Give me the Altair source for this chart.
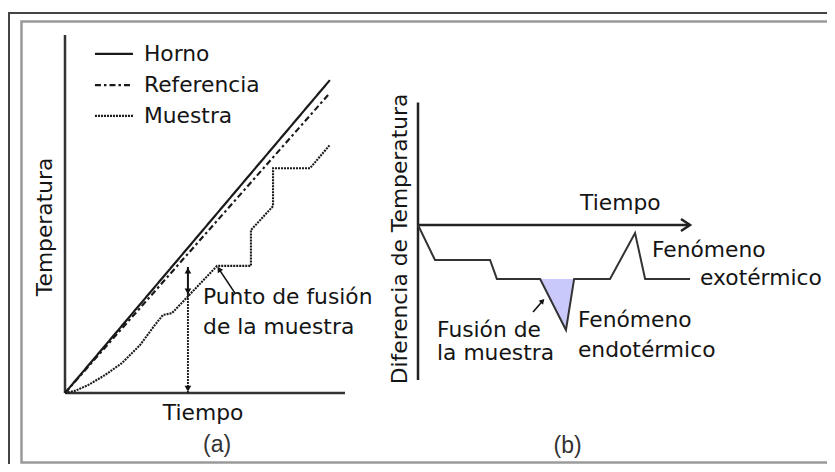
import altair as alt
import pandas as pd

# ---------------- Panel (a): temperature vs time ----------------
series_names = ["Horno", "Referencia", "Muestra"]
horno_t = [0, 94.6]
horno_T = [0, 87.4]
ref_t = [0, 94.6]
ref_T = [0, 83.8]
muestra_t = [0, 3.6, 8.2, 14.3, 20.4, 26.8, 32.1, 35.0, 38.2, 54.3, 66.4, 66.4,
             74.3, 74.3, 87.5, 94.6]
muestra_T = [0, 0.6, 2.2, 5.0, 8.4, 13.4, 19.0, 21.8, 22.3, 35.5, 35.5, 45.5,
             52.2, 62.8, 62.8, 69.3]
fusion_t = 43.9          # time of the melting point
fusion_ref_T = 35.2      # reference temperature at that time
fusion_muestra_T = 27.4  # sample temperature at that time

# ---------------- Panel (b): DTA curve ----------------
dta_t = [0, 6.25, 26.5, 29.0, 44.9, 54.4, 57.4, 70.6, 79.8, 83.5, 100]
dta_dT = [0, -22.6, -22.6, -34.8, -34.8, -67.7, -34.8, -34.8, -5.2, -34.8, -34.8]
endo_t = [44.9, 54.4, 57.4]
endo_dT = [-34.8, -67.7, -34.8]
endo_base = -34.8

FONT = "DejaVu Sans"
FS = 21.8
INK = "#1a1a1a"
TXT = "#151515"

XA = alt.Scale(domain=[0, 100], range=[57, 337], nice=False, zero=False)
YA = alt.Scale(domain=[0, 100], range=[385, 27], nice=False, zero=False)
XB = alt.Scale(domain=[0, 100], range=[410, 682], nice=False, zero=False)
YB = alt.Scale(domain=[-100, 80], range=[372, 93], nice=False, zero=False)


def xa(f):
    return alt.X(f, scale=XA, axis=None)


def ya(f):
    return alt.Y(f, scale=YA, axis=None)


def xb(f):
    return alt.X(f, scale=XB, axis=None)


def yb(f):
    return alt.Y(f, scale=YB, axis=None)


dash_scale = alt.Scale(domain=series_names, range=[[1, 0], [6, 3, 2.5, 3], [2, 1]])
width_scale = alt.Scale(domain=series_names, range=[2.2, 2.1, 1.9])

# curves of panel (a)
rows = []
for name, ts, vs in [("Horno", horno_t, horno_T), ("Referencia", ref_t, ref_T),
                     ("Muestra", muestra_t, muestra_T)]:
    for i, (t, v) in enumerate(zip(ts, vs)):
        rows.append({"series": name, "i": i, "t": t, "v": v})
curves_a = pd.DataFrame(rows)

layers = []

# frames
layers.append(alt.Chart(pd.DataFrame({"k": [0]})).mark_rect(
    fill=None, stroke="#444444", strokeWidth=2).encode(
    x=alt.value(1), x2=alt.value(900), y=alt.value(5), y2=alt.value(900)))
layers.append(alt.Chart(pd.DataFrame({"k": [0]})).mark_rect(
    fill=None, stroke="#9a9a9a", strokeWidth=2.5).encode(
    x=alt.value(13.5), x2=alt.value(900), y=alt.value(13.5), y2=alt.value(454.5)))

# axes of panel (a)
axes_a = pd.DataFrame({"t": [0, 0], "v": [0, 0], "t2": [0, 100], "v2": [100, 0]})
layers.append(alt.Chart(axes_a).mark_rule(color="#333333", strokeWidth=2.5).encode(
    x=xa("t:Q"), y=ya("v:Q"), x2="t2:Q", y2="v2:Q"))

layers.append(alt.Chart(curves_a).mark_line(color=INK).encode(
    x=xa("t:Q"), y=ya("v:Q"),
    strokeDash=alt.StrokeDash("series:N", scale=dash_scale, legend=None),
    strokeWidth=alt.StrokeWidth("series:N", scale=width_scale, legend=None),
    detail="series:N", order="i:Q"))

# legend of panel (a)
leg = pd.DataFrame({"series": series_names, "t": [10.7] * 3, "t2": [24.3] * 3,
                    "v": [94.7, 86.0, 77.4], "tl": [28.2] * 3})
layers.append(alt.Chart(leg).mark_rule(color=INK).encode(
    x=xa("t:Q"), x2="t2:Q", y=ya("v:Q"),
    strokeDash=alt.StrokeDash("series:N", scale=dash_scale, legend=None),
    strokeWidth=alt.StrokeWidth("series:N", scale=width_scale, legend=None)))
layers.append(alt.Chart(leg).mark_text(
    align="left", baseline="middle", font=FONT, fontSize=FS, color=TXT).encode(
    x=xa("tl:Q"), y=ya("v:Q"), text="series:N"))

# melting point arrows
seg_solid = pd.DataFrame({"t": [fusion_t], "v": [fusion_ref_T], "v2": [fusion_muestra_T]})
layers.append(alt.Chart(seg_solid).mark_rule(color="#111111", strokeWidth=2).encode(
    x=xa("t:Q"), y=ya("v:Q"), y2="v2:Q"))
seg_dot = pd.DataFrame({"t": [fusion_t], "v": [fusion_muestra_T], "v2": [0]})
layers.append(alt.Chart(seg_dot).mark_rule(color=INK, strokeWidth=1.9, strokeDash=[2, 1]).encode(
    x=xa("t:Q"), y=ya("v:Q"), y2="v2:Q"))
heads_up = pd.DataFrame({"t": [fusion_t], "v": [fusion_ref_T - 1.0]})
layers.append(alt.Chart(heads_up).mark_point(
    shape="triangle-up", filled=True, color="#111111", size=45, opacity=1).encode(
    x=xa("t:Q"), y=ya("v:Q")))
heads_down = pd.DataFrame({"t": [fusion_t, fusion_t], "v": [fusion_muestra_T + 1.0, 1.2]})
layers.append(alt.Chart(heads_down).mark_point(
    shape="triangle-down", filled=True, color="#111111", size=45, opacity=1).encode(
    x=xa("t:Q"), y=ya("v:Q")))

# pointer to the plateau
ptr_a = pd.DataFrame({"t": [60.7], "v": [27.9], "t2": [55.0], "v2": [34.6]})
layers.append(alt.Chart(ptr_a).mark_rule(color="#111111", strokeWidth=1.6).encode(
    x=xa("t:Q"), y=ya("v:Q"), x2="t2:Q", y2="v2:Q"))
layers.append(alt.Chart(ptr_a).mark_point(
    shape="triangle-up", filled=True, color="#111111", size=40, opacity=1, angle=327).encode(
    x=xa("t2:Q"), y=ya("v2:Q")))

# texts of panel (a)
txt_a_left = pd.DataFrame({
    "t": [49.3, 49.3],
    "v": [26.8, 18.4],
    "label": ["Punto de fusión", "de la muestra"],
})
txt_a_center = pd.DataFrame({"t": [49.3], "v": [-5.6], "label": ["Tiempo"]})
layers.append(alt.Chart(txt_a_left).mark_text(
    align="left", baseline="middle", font=FONT, fontSize=FS, color=TXT).encode(
    x=xa("t:Q"), y=ya("v:Q"), text="label:N"))
layers.append(alt.Chart(txt_a_center).mark_text(
    align="center", baseline="middle", font=FONT, fontSize=FS, color=TXT).encode(
    x=xa("t:Q"), y=ya("v:Q"), text="label:N"))
layers.append(alt.Chart(pd.DataFrame({"t": [-7.1], "v": [46.4], "label": ["Temperatura"]})).mark_text(
    align="center", baseline="middle", font=FONT, fontSize=FS, color=TXT, angle=270).encode(
    x=xa("t:Q"), y=ya("v:Q"), text="label:N"))
layers.append(alt.Chart(pd.DataFrame({"t": [54.3], "v": [-14.5], "label": ["(a)"]})).mark_text(
    align="center", baseline="middle", font="Liberation Sans", fontSize=23, color="#333333").encode(
    x=xa("t:Q"), y=ya("v:Q"), text="label:N"))

# ---------------- panel (b) ----------------
axes_b = pd.DataFrame({"t": [0, 0], "v": [-100, 0], "t2": [0, 100], "v2": [79, 0]})
layers.append(alt.Chart(axes_b).mark_rule(color="#222222", strokeWidth=2.5).encode(
    x=xb("t:Q"), y=yb("v:Q"), x2="t2:Q", y2="v2:Q"))
layers.append(alt.Chart(pd.DataFrame({"t": [100], "v": [0]})).mark_point(
    shape="M-1.5,-1L0,0L-1.5,1", filled=False, color="#222222", strokeWidth=2.5,
    size=144, opacity=1).encode(x=xb("t:Q"), y=yb("v:Q")))

endo = pd.DataFrame({"t": endo_t, "v": endo_dT, "b": [endo_base] * 3})
layers.append(alt.Chart(endo).mark_area(color="#c9c9fb", opacity=1).encode(
    x=xb("t:Q"), y=yb("v:Q"), y2="b:Q"))
dta = pd.DataFrame({"i": list(range(len(dta_t))), "t": dta_t, "v": dta_dT})
layers.append(alt.Chart(dta).mark_line(color="#333333", strokeWidth=2).encode(
    x=xb("t:Q"), y=yb("v:Q"), order="i:Q"))

ptr_b = pd.DataFrame({"t": [42.3], "v": [-56.1], "t2": [45.8], "v2": [-49.0]})
layers.append(alt.Chart(ptr_b).mark_rule(color="#111111", strokeWidth=1.6).encode(
    x=xb("t:Q"), y=yb("v:Q"), x2="t2:Q", y2="v2:Q"))
layers.append(alt.Chart(ptr_b).mark_point(
    shape="triangle-up", filled=True, color="#111111", size=35, opacity=1, angle=42).encode(
    x=xb("t2:Q"), y=yb("v2:Q")))

txt_b = pd.DataFrame({
    "t": [59.6, 86.0, 103.7, 58.8, 58.8, 7.0, 7.0],
    "v": [14.2, -16.1, -34.2, -61.3, -80.6, -67.7, -82.6],
    "label": ["Tiempo", "Fenómeno", "exotérmico", "Fenómeno", "endotérmico",
              "Fusión de", "la muestra"],
})
layers.append(alt.Chart(txt_b).mark_text(
    align="left", baseline="middle", font=FONT, fontSize=FS, color=TXT).encode(
    x=xb("t:Q"), y=yb("v:Q"), text="label:N"))
layers.append(alt.Chart(pd.DataFrame({"t": [-6.6], "v": [-9.0], "label": ["Diferencia de Temperatura"]})).mark_text(
    align="center", baseline="middle", font=FONT, fontSize=FS, color=TXT, angle=270).encode(
    x=xb("t:Q"), y=yb("v:Q"), text="label:N"))
layers.append(alt.Chart(pd.DataFrame({"t": [55.0], "v": [-142.5], "label": ["(b)"]})).mark_text(
    align="center", baseline="middle", font="Liberation Sans", fontSize=23, color="#333333").encode(
    x=xb("t:Q"), y=yb("v:Q"), text="label:N"))

chart = alt.layer(*layers).resolve_scale(
    x="independent", y="independent"
).properties(
    width=819, height=456, padding=0, autosize=alt.AutoSizeParams(type="none"),
    background="white"
).configure_view(stroke=None)

chart.save("out.html", embed_options={"renderer": "svg", "actions": False})
